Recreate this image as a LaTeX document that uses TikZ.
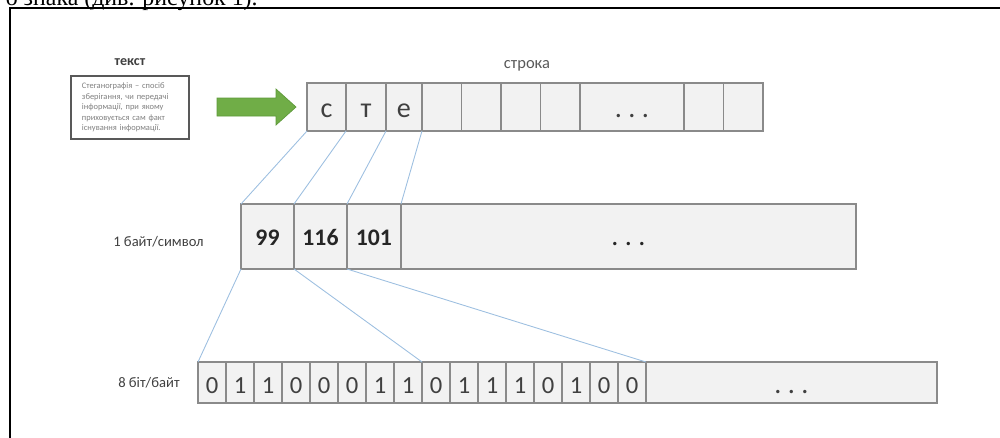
\documentclass[tikz,border=0pt]{standalone}
\usepackage{fontspec}
\setmainfont{Carlito}
\newfontfamily\capfont{Liberation Serif}
\usetikzlibrary{positioning}
\definecolor{cellgray}{HTML}{8A8A8A}
\definecolor{cellfill}{HTML}{F2F2F2}
\definecolor{textgray}{HTML}{404040}
\definecolor{boxgray}{HTML}{595959}
\definecolor{linkblue}{HTML}{9DBFE0}
\definecolor{arrowgreen}{HTML}{70AD47}
\definecolor{arrowedge}{HTML}{5E9A3A}
\newcommand{\threedots}{.\hspace{0.23em}.\hspace{0.23em}.}
\tikzstyle{cell} = [draw=cellgray, fill=cellfill, line width=0.85pt, inner sep=0pt, outer sep=0pt, text=textgray]
\tikzstyle{charcell} = [cell, minimum height=0.96cm, text height=0.4cm, text depth=0cm, font=\fontsize{16}{18}\selectfont]
\tikzstyle{bytecell} = [cell, minimum height=1.30cm, text height=0.34cm, text depth=0cm, font=\fontsize{13.5}{15}\selectfont\bfseries, text=black!85]
\tikzstyle{bitcell} = [cell, minimum height=0.82cm, minimum width=0.56cm, text height=0.42cm, text depth=0cm, font=\fontsize{14}{16}\selectfont]
\tikzstyle{rowlabel} = [font=\fontsize{8.3}{10}\selectfont, text=textgray, inner sep=0pt]
\tikzstyle{link} = [draw=linkblue, line width=0.5pt]

\begin{document}
\begin{tikzpicture}[x=0.02cm,y=-0.02cm]
    \clip (0,0) rectangle (1000,437);
    % caption line above the frame
    \node[anchor=base east, inner sep=0pt, font=\capfont\fontsize{13.6}{16}\selectfont] (caption) at (258,5) {о знака (див. рисунок 1).};
    \draw[line width=0.7pt] (10,445) -- (10,8) -- (1005,8);

    % source text
    \node[font=\bfseries\fontsize{8}{10}\selectfont, text=textgray] (texttitle) at (130,62) {текст};
    \node[draw=boxgray, line width=1.1pt, fill=white, anchor=north west, minimum width=2.36cm, minimum height=1.26cm,
          inner xsep=0.22cm, inner ysep=0pt, text width=1.92cm, align=left, text=gray,
          font=\fontsize{4.8}{5.95}\selectfont] (textbox) at (70,75)
          {Стеганографія – спосіб\\зберігання, чи передачі\\інформації, при якому\\приховується сам факт\\існування інформації.};
    \draw[fill=arrowgreen, draw=arrowedge, line width=0.4pt] (217,98) -- (276,98) -- (276,89) -- (296,107) -- (276,125) -- (276,116) -- (217,116) -- cycle;

    % string
    \node[font=\fontsize{9.4}{11}\selectfont, text=boxgray] (rowtitle) at (527,66) {строка};
    \node[charcell, minimum width=0.78cm, anchor=north west] (c1) at (307,83) {с};
    \node[charcell, minimum width=0.80cm, right=0pt of c1] (c2) {т};
    \node[charcell, minimum width=0.72cm, right=0pt of c2] (c3) {е};
    \node[charcell, minimum width=0.79cm, right=0pt of c3] (c4) {};
    \node[charcell, minimum width=0.79cm, right=0pt of c4] (c5) {};
    \node[charcell, minimum width=0.79cm, right=0pt of c5] (c6) {};
    \node[charcell, minimum width=0.79cm, right=0pt of c6] (c7) {};
    \node[charcell, minimum width=2.08cm, right=0pt of c7] (c8) {\threedots};
    \node[charcell, minimum width=0.79cm, right=0pt of c8] (c9) {};
    \node[charcell, minimum width=0.79cm, right=0pt of c9] (c10) {};

    % bytes
    \node[rowlabel, anchor=east] (bytelabel) at (204,242) {1 байт/символ};
    \node[bytecell, minimum width=1.06cm, anchor=north west] (b1) at (241,204) {99};
    \node[bytecell, minimum width=1.06cm, right=0pt of b1] (b2) {116};
    \node[bytecell, minimum width=1.08cm, right=0pt of b2] (b3) {101};
    \node[bytecell, minimum width=9.10cm, right=0pt of b3, font=\fontsize{16}{18}\selectfont] (b4) {\threedots};

    % bits
    \node[rowlabel, anchor=east] (bitlabel) at (180,383) {8 біт/байт};
    \foreach \bit [count=\i] in {0,1,1,0,0,0,1,1,0,1,1,1,0,1,0,0}
        \node[bitcell, anchor=north west] (t\i) at ({198+28*(\i-1)},362) {\bit};
    \node[bitcell, minimum width=5.82cm, right=0pt of t16, font=\fontsize{16}{18}\selectfont] (t17) {\threedots};

    \draw[link] (c1.south west) -- (b1.north west);
    \draw[link] (c2.south west) -- (b2.north west);
    \draw[link] (c3.south west) -- (b3.north west);
    \draw[link] (c4.south west) -- (b4.north west);
    \draw[link] (b1.south west) -- (t1.north west);
    \draw[link] (b2.south west) -- (t9.north west);
    \draw[link] (b3.south west) -- (t17.north west);
\end{tikzpicture}
\end{document}
